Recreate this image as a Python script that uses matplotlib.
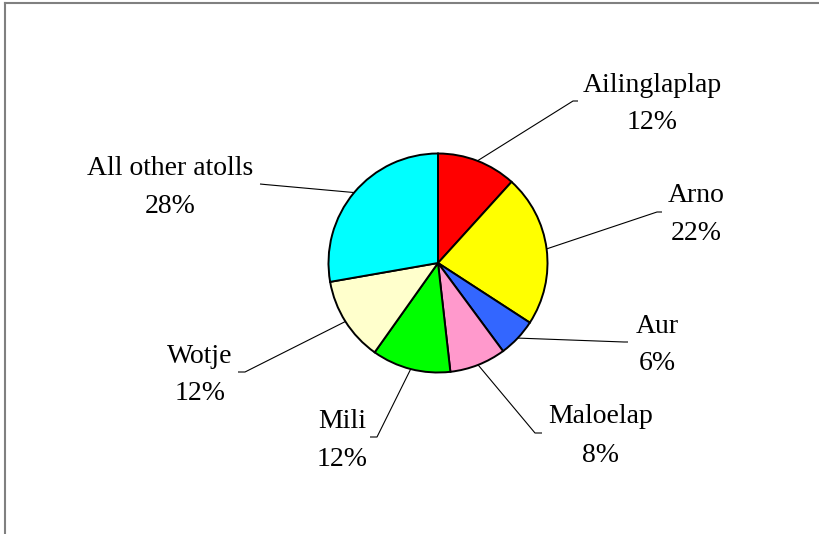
import matplotlib
matplotlib.use("Agg")
import matplotlib.pyplot as plt
import numpy as np

# ---- data ----
categories = ["Ailinglaplap", "Arno", "Aur", "Maloelap", "Mili", "Wotje", "All other atolls"]
values = [11.7, 22.4, 5.7, 8.3, 11.6, 12.4, 27.7]
colors = ["#FF0000", "#FFFF00", "#3366FF", "#FF99CC", "#00FF00", "#FFFFCC", "#00FFFF"]

# ---- layout (pixel positions in the 820x534 canvas) ----
W, H = 820, 534
CX, CY, R = 438, 263, 109.5
# label centre x, name baseline y, pct baseline y
label_pos = [(652, 92, 129), (696, 202, 240), (657, 333, 370), (601, 423, 462),
             (342, 428, 466), (200, 363, 400), (170, 175, 213)]
# leader elbow and end (pixels)
leader = [((573, 101), (578, 101)), ((657, 212), (662, 212)), ((624, 342), (628, 342)),
          ((535, 433), (542, 433)), ((377, 437), (370, 437)), ((245, 372), (238, 372)),
          ((265, 184.5), (260, 184))]

def px(x, y):
    return ((x - CX) / R, (CY - y) / R)

fig = plt.figure(figsize=(W / 100, H / 100), dpi=100)
ax = fig.add_axes([0, 0, 1, 1])
ax.set_xlim(px(0, 0)[0], px(W, 0)[0])
ax.set_ylim(px(0, H)[1], px(0, 0)[1])
ax.axis("off")

wedges, _ = ax.pie(values, colors=colors, startangle=90, counterclock=False,
                   radius=1.0, center=(0, 0),
                   wedgeprops=dict(edgecolor="black", linewidth=1.4))
ax.set_xlim(px(0, 0)[0], px(W, 0)[0])
ax.set_ylim(px(0, H)[1], px(0, 0)[1])
ax.set_aspect("auto")

total = sum(values)
font = dict(family="Liberation Serif", fontsize=20, color="black")
for w, name, v, (lx, ny, py), (elb, end) in zip(wedges, categories, values, label_pos, leader):
    mid = np.deg2rad((w.theta1 + w.theta2) / 2)
    sx, sy = np.cos(mid), np.sin(mid)
    ex, ey = px(*elb)
    fx, fy = px(*end)
    ax.plot([sx, ex, fx], [sy, ey, fy], color="black", lw=0.8, solid_capstyle="butt")
    pct = f"{round(v / total * 100):.0f}%"
    x, y1 = px(lx, ny)
    _, y2 = px(lx, py)
    ax.text(x, y1, name, ha="center", va="baseline", **font)
    ax.text(x, y2, pct, ha="center", va="baseline", **font)

# frame (top and left edges visible)
ax.plot([px(5, 3)[0], px(W, 3)[0]], [px(5, 3)[1], px(W, 3)[1]], color="#808080", lw=1.5)
ax.plot([px(5, 3)[0], px(5, H)[0]], [px(5, 3)[1], px(5, H)[1]], color="#808080", lw=1.5)

fig.savefig("out.png", dpi=100)
